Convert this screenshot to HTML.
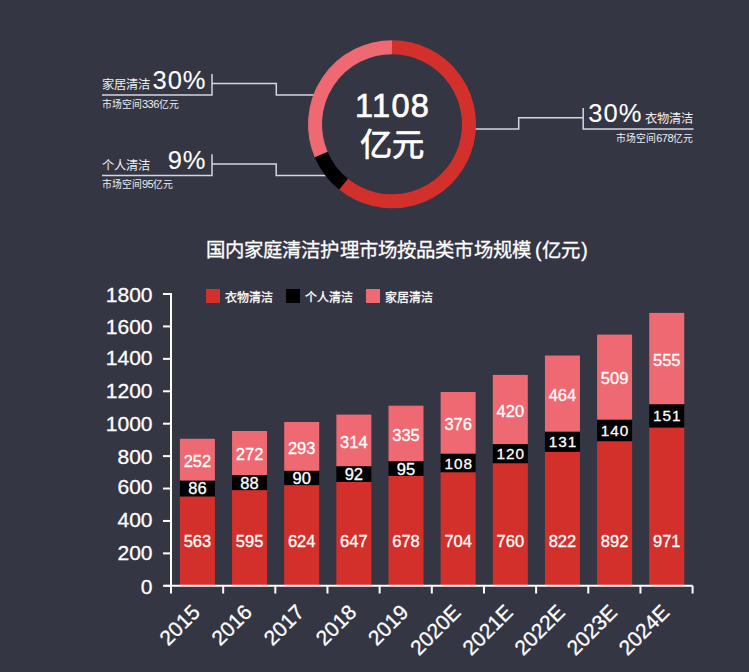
<!DOCTYPE html>
<html lang="zh-CN"><head><meta charset="utf-8"><title>chart</title>
<style>html,body{margin:0;padding:0;background:#353644;width:749px;height:672px;overflow:hidden;font-family:"Liberation Sans",sans-serif}</style>
</head><body>
<svg width="749" height="672" viewBox="0 0 749 672" style="position:absolute;left:0;top:0"><rect width="749" height="672" fill="#353644"/><path d="M102,95.1 H212 V74 M212,83.6 H276.3 V95.1 H318" fill="none" stroke="#d4d5e0" stroke-width="1.5"/><path d="M102,175.4 H212 V154.3 M212,164 H276.2 V175.6 H330" fill="none" stroke="#d4d5e0" stroke-width="1.5"/><path d="M693.5,129 H583.2 V108 M583.2,117.7 H518.7 V129 H471" fill="none" stroke="#d4d5e0" stroke-width="1.5"/><path d="M392.00,47.30 A77.0,77.0 0 1 1 343.54,184.14" fill="none" stroke="#d4302b" stroke-width="14.0"/><path d="M343.54,184.14 A77.0,77.0 0 0 1 321.12,154.39" fill="none" stroke="#000000" stroke-width="14.0"/><path d="M321.12,154.39 A77.0,77.0 0 0 1 392.00,47.30" fill="none" stroke="#ee6971" stroke-width="14.0"/><text x="392.6" y="116.5" font-family='"Liberation Sans", sans-serif' font-size="32.5" letter-spacing="1.3" fill="#ffffff" stroke="#fff" stroke-width="0.7" text-anchor="middle">1108</text><text x="392.0" y="156.3" font-family='"Liberation Sans", sans-serif' font-size="32.3" fill="#ffffff" stroke="#fff" stroke-width="0.7" text-anchor="middle">亿元</text><text x="102" y="89" font-family='"Liberation Sans", sans-serif' font-size="12.3" fill="#eeeef0">家居清洁</text><text x="206.5" y="88.6" font-family='"Liberation Sans", sans-serif' font-size="25.5" letter-spacing="1" fill="#ffffff" stroke="#fff" stroke-width="0.1" text-anchor="end">30%</text><text x="102" y="108" font-family='"Liberation Sans", sans-serif' font-size="9.8" fill="#eeeef0">市场空间<tspan font-size="11" letter-spacing="-0.5">336</tspan>亿元</text><text x="102" y="169.5" font-family='"Liberation Sans", sans-serif' font-size="12.3" fill="#eeeef0">个人清洁</text><text x="206.5" y="168.6" font-family='"Liberation Sans", sans-serif' font-size="25.5" letter-spacing="1" fill="#ffffff" stroke="#fff" stroke-width="0.1" text-anchor="end">9%</text><text x="102" y="188.3" font-family='"Liberation Sans", sans-serif' font-size="9.8" fill="#eeeef0">市场空间<tspan font-size="11" letter-spacing="-0.5">95</tspan>亿元</text><text x="588.3" y="122.3" font-family='"Liberation Sans", sans-serif' font-size="25.5" letter-spacing="1" fill="#ffffff" stroke="#fff" stroke-width="0.1">30%</text><text x="693" y="123.3" font-family='"Liberation Sans", sans-serif' font-size="12.3" fill="#eeeef0" text-anchor="end">衣物清洁</text><text x="693" y="142" font-family='"Liberation Sans", sans-serif' font-size="9.8" fill="#eeeef0" text-anchor="end">市场空间<tspan font-size="11" letter-spacing="-0.5">678</tspan>亿元</text><text y="257" font-family='"Liberation Sans", sans-serif' font-size="19.4" fill="#ffffff" stroke="#fff" stroke-width="0.3"><tspan x="205.6" letter-spacing="0.14">国内家庭清洁护理市场按品类市场规模</tspan><tspan x="535.1">(</tspan><tspan x="541.5">亿元</tspan><tspan x="581.3">)</tspan></text><rect x="206" y="289" width="14" height="14" fill="#d4302b"/><text x="225" y="301.5" font-family='"Liberation Sans", sans-serif' font-size="12" fill="#ffffff" stroke="#fff" stroke-width="0.3">衣物清洁</text><rect x="286" y="289" width="14" height="14" fill="#000000"/><text x="305" y="301.5" font-family='"Liberation Sans", sans-serif' font-size="12" fill="#ffffff" stroke="#fff" stroke-width="0.3">个人清洁</text><rect x="366" y="289" width="14" height="14" fill="#ee6971"/><text x="385" y="301.5" font-family='"Liberation Sans", sans-serif' font-size="12" fill="#ffffff" stroke="#fff" stroke-width="0.3">家居清洁</text><rect x="179.90" y="496.40" width="35.0" height="88.90" fill="#d4302b"/><rect x="179.90" y="480.50" width="35.0" height="15.90" fill="#000000"/><rect x="179.90" y="438.80" width="35.0" height="41.70" fill="#ee6971"/><text x="197.40" y="547.30" font-family='"Liberation Sans", sans-serif' font-size="16.5" fill="#ffffff" stroke="#fff" stroke-width="0.3" text-anchor="middle">563</text><text x="197.40" y="494.45" font-family='"Liberation Sans", sans-serif' font-size="16.5" fill="#ffffff" stroke="#fff" stroke-width="0.3" text-anchor="middle">86</text><text x="197.40" y="466.85" font-family='"Liberation Sans", sans-serif' font-size="16.5" fill="#ffffff" stroke="#fff" stroke-width="0.3" text-anchor="middle">252</text><text transform="translate(201.20,613.6) rotate(-45)" font-family='"Liberation Sans", sans-serif' font-size="21" fill="#ffffff" stroke="#fff" stroke-width="0.3" text-anchor="end">2015</text><rect x="232.05" y="490.10" width="35.0" height="95.20" fill="#d4302b"/><rect x="232.05" y="475.10" width="35.0" height="15.00" fill="#000000"/><rect x="232.05" y="431.00" width="35.0" height="44.10" fill="#ee6971"/><text x="249.55" y="547.30" font-family='"Liberation Sans", sans-serif' font-size="16.5" fill="#ffffff" stroke="#fff" stroke-width="0.3" text-anchor="middle">595</text><text x="249.55" y="488.60" font-family='"Liberation Sans", sans-serif' font-size="16.5" fill="#ffffff" stroke="#fff" stroke-width="0.3" text-anchor="middle">88</text><text x="249.55" y="460.25" font-family='"Liberation Sans", sans-serif' font-size="16.5" fill="#ffffff" stroke="#fff" stroke-width="0.3" text-anchor="middle">272</text><text transform="translate(253.35,613.6) rotate(-45)" font-family='"Liberation Sans", sans-serif' font-size="21" fill="#ffffff" stroke="#fff" stroke-width="0.3" text-anchor="end">2016</text><rect x="284.20" y="485.10" width="35.0" height="100.20" fill="#d4302b"/><rect x="284.20" y="470.70" width="35.0" height="14.40" fill="#000000"/><rect x="284.20" y="422.00" width="35.0" height="48.70" fill="#ee6971"/><text x="301.70" y="547.30" font-family='"Liberation Sans", sans-serif' font-size="16.5" fill="#ffffff" stroke="#fff" stroke-width="0.3" text-anchor="middle">624</text><text x="301.70" y="483.90" font-family='"Liberation Sans", sans-serif' font-size="16.5" fill="#ffffff" stroke="#fff" stroke-width="0.3" text-anchor="middle">90</text><text x="301.70" y="453.55" font-family='"Liberation Sans", sans-serif' font-size="16.5" fill="#ffffff" stroke="#fff" stroke-width="0.3" text-anchor="middle">293</text><text transform="translate(305.50,613.6) rotate(-45)" font-family='"Liberation Sans", sans-serif' font-size="21" fill="#ffffff" stroke="#fff" stroke-width="0.3" text-anchor="end">2017</text><rect x="336.35" y="481.90" width="35.0" height="103.40" fill="#d4302b"/><rect x="336.35" y="466.20" width="35.0" height="15.70" fill="#000000"/><rect x="336.35" y="414.60" width="35.0" height="51.60" fill="#ee6971"/><text x="353.85" y="547.30" font-family='"Liberation Sans", sans-serif' font-size="16.5" fill="#ffffff" stroke="#fff" stroke-width="0.3" text-anchor="middle">647</text><text x="353.85" y="480.05" font-family='"Liberation Sans", sans-serif' font-size="16.5" fill="#ffffff" stroke="#fff" stroke-width="0.3" text-anchor="middle">92</text><text x="353.85" y="447.60" font-family='"Liberation Sans", sans-serif' font-size="16.5" fill="#ffffff" stroke="#fff" stroke-width="0.3" text-anchor="middle">314</text><text transform="translate(357.65,613.6) rotate(-45)" font-family='"Liberation Sans", sans-serif' font-size="21" fill="#ffffff" stroke="#fff" stroke-width="0.3" text-anchor="end">2018</text><rect x="388.50" y="475.90" width="35.0" height="109.40" fill="#d4302b"/><rect x="388.50" y="461.20" width="35.0" height="14.70" fill="#000000"/><rect x="388.50" y="405.70" width="35.0" height="55.50" fill="#ee6971"/><text x="406.00" y="547.30" font-family='"Liberation Sans", sans-serif' font-size="16.5" fill="#ffffff" stroke="#fff" stroke-width="0.3" text-anchor="middle">678</text><text x="406.00" y="474.55" font-family='"Liberation Sans", sans-serif' font-size="16.5" fill="#ffffff" stroke="#fff" stroke-width="0.3" text-anchor="middle">95</text><text x="406.00" y="440.65" font-family='"Liberation Sans", sans-serif' font-size="16.5" fill="#ffffff" stroke="#fff" stroke-width="0.3" text-anchor="middle">335</text><text transform="translate(409.80,613.6) rotate(-45)" font-family='"Liberation Sans", sans-serif' font-size="21" fill="#ffffff" stroke="#fff" stroke-width="0.3" text-anchor="end">2019</text><rect x="440.65" y="472.20" width="35.0" height="113.10" fill="#d4302b"/><rect x="440.65" y="453.60" width="35.0" height="18.60" fill="#000000"/><rect x="440.65" y="392.00" width="35.0" height="61.60" fill="#ee6971"/><text x="458.15" y="547.30" font-family='"Liberation Sans", sans-serif' font-size="16.5" fill="#ffffff" stroke="#fff" stroke-width="0.3" text-anchor="middle">704</text><text x="458.65" y="468.50" font-family='"Liberation Sans", sans-serif' font-size="15.3" letter-spacing="1" fill="#ffffff" stroke="#fff" stroke-width="0.3" text-anchor="middle">108</text><text x="458.15" y="430.00" font-family='"Liberation Sans", sans-serif' font-size="16.5" fill="#ffffff" stroke="#fff" stroke-width="0.3" text-anchor="middle">376</text><text transform="translate(461.95,613.6) rotate(-45)" font-family='"Liberation Sans", sans-serif' font-size="21" fill="#ffffff" stroke="#fff" stroke-width="0.3" text-anchor="end">2020E</text><rect x="492.80" y="463.20" width="35.0" height="122.10" fill="#d4302b"/><rect x="492.80" y="444.10" width="35.0" height="19.10" fill="#000000"/><rect x="492.80" y="374.90" width="35.0" height="69.20" fill="#ee6971"/><text x="510.30" y="547.30" font-family='"Liberation Sans", sans-serif' font-size="16.5" fill="#ffffff" stroke="#fff" stroke-width="0.3" text-anchor="middle">760</text><text x="510.80" y="459.25" font-family='"Liberation Sans", sans-serif' font-size="15.3" letter-spacing="1" fill="#ffffff" stroke="#fff" stroke-width="0.3" text-anchor="middle">120</text><text x="510.30" y="416.70" font-family='"Liberation Sans", sans-serif' font-size="16.5" fill="#ffffff" stroke="#fff" stroke-width="0.3" text-anchor="middle">420</text><text transform="translate(514.10,613.6) rotate(-45)" font-family='"Liberation Sans", sans-serif' font-size="21" fill="#ffffff" stroke="#fff" stroke-width="0.3" text-anchor="end">2021E</text><rect x="544.95" y="451.80" width="35.0" height="133.50" fill="#d4302b"/><rect x="544.95" y="431.60" width="35.0" height="20.20" fill="#000000"/><rect x="544.95" y="355.50" width="35.0" height="76.10" fill="#ee6971"/><text x="562.45" y="547.30" font-family='"Liberation Sans", sans-serif' font-size="16.5" fill="#ffffff" stroke="#fff" stroke-width="0.3" text-anchor="middle">822</text><text x="562.95" y="447.30" font-family='"Liberation Sans", sans-serif' font-size="15.3" letter-spacing="1" fill="#ffffff" stroke="#fff" stroke-width="0.3" text-anchor="middle">131</text><text x="562.45" y="400.75" font-family='"Liberation Sans", sans-serif' font-size="16.5" fill="#ffffff" stroke="#fff" stroke-width="0.3" text-anchor="middle">464</text><text transform="translate(566.25,613.6) rotate(-45)" font-family='"Liberation Sans", sans-serif' font-size="21" fill="#ffffff" stroke="#fff" stroke-width="0.3" text-anchor="end">2022E</text><rect x="597.10" y="441.20" width="35.0" height="144.10" fill="#d4302b"/><rect x="597.10" y="419.60" width="35.0" height="21.60" fill="#000000"/><rect x="597.10" y="334.60" width="35.0" height="85.00" fill="#ee6971"/><text x="614.60" y="547.30" font-family='"Liberation Sans", sans-serif' font-size="16.5" fill="#ffffff" stroke="#fff" stroke-width="0.3" text-anchor="middle">892</text><text x="615.10" y="436.00" font-family='"Liberation Sans", sans-serif' font-size="15.3" letter-spacing="1" fill="#ffffff" stroke="#fff" stroke-width="0.3" text-anchor="middle">140</text><text x="614.60" y="384.30" font-family='"Liberation Sans", sans-serif' font-size="16.5" fill="#ffffff" stroke="#fff" stroke-width="0.3" text-anchor="middle">509</text><text transform="translate(618.40,613.6) rotate(-45)" font-family='"Liberation Sans", sans-serif' font-size="21" fill="#ffffff" stroke="#fff" stroke-width="0.3" text-anchor="end">2023E</text><rect x="649.25" y="427.50" width="35.0" height="157.80" fill="#d4302b"/><rect x="649.25" y="404.20" width="35.0" height="23.30" fill="#000000"/><rect x="649.25" y="312.90" width="35.0" height="91.30" fill="#ee6971"/><text x="666.75" y="547.30" font-family='"Liberation Sans", sans-serif' font-size="16.5" fill="#ffffff" stroke="#fff" stroke-width="0.3" text-anchor="middle">971</text><text x="667.25" y="421.45" font-family='"Liberation Sans", sans-serif' font-size="15.3" letter-spacing="1" fill="#ffffff" stroke="#fff" stroke-width="0.3" text-anchor="middle">151</text><text x="666.75" y="365.75" font-family='"Liberation Sans", sans-serif' font-size="16.5" fill="#ffffff" stroke="#fff" stroke-width="0.3" text-anchor="middle">555</text><text transform="translate(670.55,613.6) rotate(-45)" font-family='"Liberation Sans", sans-serif' font-size="21" fill="#ffffff" stroke="#fff" stroke-width="0.3" text-anchor="end">2024E</text><path d="M171.0,293 V585.8" stroke="#ffffff" stroke-width="2" fill="none"/><path d="M165,585.8 H692.6" stroke="#ffffff" stroke-width="2" fill="none"/><path d="M163,585.80 H171.0" stroke="#ffffff" stroke-width="2" fill="none"/><text x="152.5" y="593.55" font-family='"Liberation Sans", sans-serif' font-size="21" fill="#ffffff" stroke="#fff" stroke-width="0.3" text-anchor="end">0</text><path d="M163,553.38 H171.0" stroke="#ffffff" stroke-width="2" fill="none"/><text x="152.5" y="560.45" font-family='"Liberation Sans", sans-serif' font-size="21" fill="#ffffff" stroke="#fff" stroke-width="0.3" text-anchor="end">200</text><path d="M163,520.96 H171.0" stroke="#ffffff" stroke-width="2" fill="none"/><text x="152.5" y="526.90" font-family='"Liberation Sans", sans-serif' font-size="21" fill="#ffffff" stroke="#fff" stroke-width="0.3" text-anchor="end">400</text><path d="M163,488.53 H171.0" stroke="#ffffff" stroke-width="2" fill="none"/><text x="152.5" y="493.70" font-family='"Liberation Sans", sans-serif' font-size="21" fill="#ffffff" stroke="#fff" stroke-width="0.3" text-anchor="end">600</text><path d="M163,456.11 H171.0" stroke="#ffffff" stroke-width="2" fill="none"/><text x="152.5" y="463.60" font-family='"Liberation Sans", sans-serif' font-size="21" fill="#ffffff" stroke="#fff" stroke-width="0.3" text-anchor="end">800</text><path d="M163,423.69 H171.0" stroke="#ffffff" stroke-width="2" fill="none"/><text x="152.5" y="430.80" font-family='"Liberation Sans", sans-serif' font-size="21" fill="#ffffff" stroke="#fff" stroke-width="0.3" text-anchor="end">1000</text><path d="M163,391.27 H171.0" stroke="#ffffff" stroke-width="2" fill="none"/><text x="152.5" y="398.15" font-family='"Liberation Sans", sans-serif' font-size="21" fill="#ffffff" stroke="#fff" stroke-width="0.3" text-anchor="end">1200</text><path d="M163,358.84 H171.0" stroke="#ffffff" stroke-width="2" fill="none"/><text x="152.5" y="364.80" font-family='"Liberation Sans", sans-serif' font-size="21" fill="#ffffff" stroke="#fff" stroke-width="0.3" text-anchor="end">1400</text><path d="M163,326.42 H171.0" stroke="#ffffff" stroke-width="2" fill="none"/><text x="152.5" y="334.40" font-family='"Liberation Sans", sans-serif' font-size="21" fill="#ffffff" stroke="#fff" stroke-width="0.3" text-anchor="end">1600</text><path d="M163,294.00 H171.0" stroke="#ffffff" stroke-width="2" fill="none"/><text x="152.5" y="301.70" font-family='"Liberation Sans", sans-serif' font-size="21" fill="#ffffff" stroke="#fff" stroke-width="0.3" text-anchor="end">1800</text><path d="M171.00,585.8 V593.5" stroke="#ffffff" stroke-width="2" fill="none"/><path d="M223.16,585.8 V593.5" stroke="#ffffff" stroke-width="2" fill="none"/><path d="M275.32,585.8 V593.5" stroke="#ffffff" stroke-width="2" fill="none"/><path d="M327.48,585.8 V593.5" stroke="#ffffff" stroke-width="2" fill="none"/><path d="M379.64,585.8 V593.5" stroke="#ffffff" stroke-width="2" fill="none"/><path d="M431.80,585.8 V593.5" stroke="#ffffff" stroke-width="2" fill="none"/><path d="M483.96,585.8 V593.5" stroke="#ffffff" stroke-width="2" fill="none"/><path d="M536.12,585.8 V593.5" stroke="#ffffff" stroke-width="2" fill="none"/><path d="M588.28,585.8 V593.5" stroke="#ffffff" stroke-width="2" fill="none"/><path d="M640.44,585.8 V593.5" stroke="#ffffff" stroke-width="2" fill="none"/><path d="M692.60,585.8 V593.5" stroke="#ffffff" stroke-width="2" fill="none"/></svg>
</body></html>
